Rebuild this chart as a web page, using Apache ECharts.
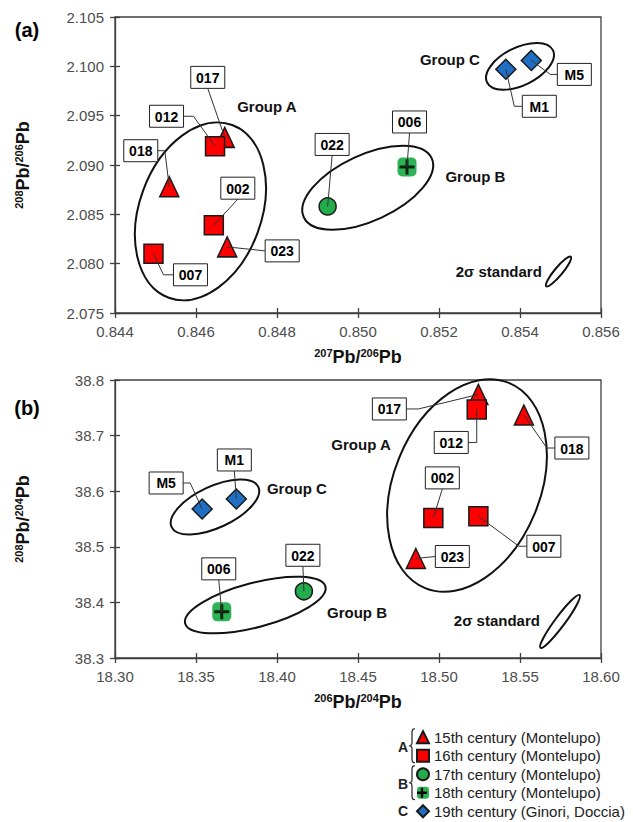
<!DOCTYPE html>
<html>
<head>
<meta charset="utf-8">
<script src="https://cdn.jsdelivr.net/npm/echarts@6/dist/echarts.min.js"></script>
<style>
html, body { margin: 0; padding: 0; background: #fff; }
#main { width: 633px; height: 822px; }
</style>
</head>
<body>
<div id="main"></div>
<script>
var FONT = '"Liberation Sans", Arial, sans-serif';

var seriesNames = ['15th century (Montelupo)', '16th century (Montelupo)',
    '17th century (Montelupo)', '18th century (Montelupo)', '19th century (Ginori, Doccia)'];

// (a)  207Pb/206Pb, 208Pb/206Pb, sample
var a15 = [[0.84534, 2.0878, '018'], [0.84671, 2.0928, '017'], [0.84677, 2.0817, '023']];
var a16 = [[0.84647, 2.0919, '012'], [0.84644, 2.0839, '002'], [0.84495, 2.0810, '007']];
var a17 = [[0.84925, 2.0858, '022']];
var a18 = [[0.85121, 2.0898, '006']];
var a19 = [[0.85365, 2.0997, 'M1'], [0.85428, 2.1006, 'M5']];

// (b)  206Pb/204Pb, 208Pb/204Pb, sample
var b15 = [[18.5243, 38.774, '017'], [18.5524, 38.737, '018'], [18.4857, 38.479, '023']];
var b16 = [[18.5233, 38.747, '012'], [18.4965, 38.552, '002'], [18.5243, 38.555, '007']];
var b17 = [[18.4166, 38.420, '022']];
var b18 = [[18.3659, 38.383, '006']];
var b19 = [[18.3749, 38.586, 'M1'], [18.3538, 38.568, 'M5']];

// axis ranges [min, max, step]
var aX = [0.844, 0.856, 0.002];
var aY = [2.075, 2.105, 0.005];
var bX = [18.30, 18.60, 0.05];
var bY = [38.3, 38.8, 0.1];

// label box offsets from the point (px) and leader routing
var aLabels = {
    '018': {dx: -28.5, dy: -36, from: 'right', elbow: 7},
    '017': {dx: -17, dy: -60, from: 'bottom'},
    '023': {dx: 55, dy: 4, from: 'left'},
    '012': {dx: -48.5, dy: -30, from: 'right', elbow: 10},
    '002': {dx: 24, dy: -37, from: 'bottom'},
    '007': {dx: 37, dy: 21, from: 'left', elbow: 10},
    '022': {dx: 4.5, dy: -62, from: 'bottom'},
    '006': {dx: 2.5, dy: -45, from: 'bottom'},
    'M1': {dx: 33.5, dy: 37, from: 'left', elbow: 8},
    'M5': {dx: 43, dy: 14, from: 'left', elbow: 7}
};
var bLabels = {
    '017': {dx: -89, dy: 14.5, from: 'right', elbow: 12},
    '018': {dx: 48, dy: 33, from: 'left', elbow: 8},
    '023': {dx: 36.5, dy: -2, from: 'left'},
    '012': {dx: -25.5, dy: 33, from: 'right', elbow: 8.5},
    '002': {dx: 9, dy: -40, from: 'bottom'},
    '007': {dx: 65.5, dy: 30, from: 'left', elbow: 8},
    '022': {dx: -1, dy: -36, from: 'bottom'},
    '006': {dx: -3, dy: -43, from: 'bottom'},
    'M1': {dx: -2, dy: -39, from: 'bottom'},
    'M5': {dx: -36, dy: -26, from: 'right', elbow: 7}
};

// group ellipses: centre in data units, radii (px), rotation (rad)
var aEllipses = [[0.84611, 2.0853, 61, 92, -0.352], [0.85024, 2.0877, 70.4, 32.9, 0.433],
    [0.85400, 2.1000, 36.7, 18.9, 0.457], [0.85495, 2.0792, 19.2, 4, 0.876]];
var bEllipses = [[18.5173, 38.6103, 73.3, 110.8, -0.388], [18.3866, 38.3953, 72.5, 22.2, 0.258],
    [18.3617, 38.5716, 47.8, 20.7, 0.434], [18.5747, 38.3657, 32.8, 5, 0.932]];
var aNotes = [['Group A', 0.84775, 2.0959, 'center'], ['Group B', 0.85290, 2.0888, 'center'],
    ['Group C', 0.85227, 2.1007, 'center'], ['2σ standard', 0.85454, 2.0792, 'right']];
var bNotes = [['Group A', 18.4519, 38.6844, 'center'], ['Group B', 18.4494, 38.3815, 'center'],
    ['Group C', 18.4123, 38.6049, 'center'], ['2σ standard', 18.5623, 38.3683, 'right']];

var styles = [
    {symbol: 'triangle', size: [19, 20], color: '#ff0000', border: '#1a1a1a'},
    {symbol: 'rect', size: 19, color: '#ff0000', border: '#1a1a1a'},
    {symbol: 'circle', size: 17, color: '#22ac4c', border: '#1a1a1a'},
    {symbol: 'roundRect', size: 19, color: '#2db356', border: null},
    {symbol: 'diamond', size: 20, color: '#1f70c4', border: '#1a1a1a'}
];
var plusPath = 'path://M4,0H6V4H10V6H6V10H4V6H0V4H4Z';

var chart = echarts.init(document.getElementById('main'), null, {renderer: 'svg'});

var nameRich = {
    s: {fontSize: 11, fontWeight: 'bold', color: '#111', fontFamily: FONT, verticalAlign: 'top', lineHeight: 12},
    p: {fontSize: 18, fontWeight: 'bold', color: '#111', fontFamily: FONT, lineHeight: 20}
};
var axisColor = '#404040';

function mainAxis(gi, r, digits, name, gap) {
    return {
        gridIndex: gi, type: 'value', min: r[0], max: r[1], interval: r[2],
        name: name, nameLocation: 'middle', nameGap: gap,
        nameTextStyle: {rich: nameRich},
        axisLine: {show: true, onZero: false, lineStyle: {color: axisColor, width: 1.3}},
        axisTick: {show: true, inside: false, length: 5, lineStyle: {color: axisColor, width: 1.3}},
        axisLabel: {margin: 11, fontSize: 15, color: '#4d4d4d', fontFamily: FONT,
            formatter: function (v) { return v.toFixed(digits); }},
        splitLine: {show: false}
    };
}
function innerAxis(gi, r, pos) {
    return {
        gridIndex: gi, type: 'value', position: pos, min: r[0], max: r[1], interval: r[2],
        axisLine: {show: false},
        axisTick: {show: true, inside: true, length: 5, lineStyle: {color: axisColor, width: 1.3}},
        axisLabel: {show: false},
        splitLine: {show: false}
    };
}

function panelSeries(gi, sets) {
    var out = [];
    sets.forEach(function (set, i) {
        var st = styles[i];
        out.push({
            name: seriesNames[i], type: 'scatter', xAxisIndex: gi, yAxisIndex: gi,
            data: set, symbol: st.symbol, symbolSize: st.size, silent: true,
            itemStyle: {color: st.color, borderColor: st.border || st.color, borderWidth: st.border ? 1.5 : 0, opacity: 1},
            z: 3
        });
    });
    out.push({
        name: 'cross', type: 'scatter', xAxisIndex: gi, yAxisIndex: gi,
        data: sets[3], symbol: plusPath, symbolSize: 15, silent: true,
        itemStyle: {color: '#000'}, z: 4
    });
    return out;
}

var LEG_TOP = 728, LEG_ROW = 18.5;

var option = {
    animation: false,
    textStyle: {fontFamily: FONT},
    grid: [
        {left: 115, top: 17, width: 486, height: 296, show: true, borderColor: axisColor, borderWidth: 1.3,
            backgroundColor: 'transparent', outerBoundsMode: 'none'},
        {left: 115, top: 380, width: 486, height: 278, show: true, borderColor: axisColor, borderWidth: 1.3,
            backgroundColor: 'transparent', outerBoundsMode: 'none'}
    ],
    legend: {
        data: seriesNames, orient: 'vertical', left: 416, top: LEG_TOP, padding: 0,
        itemWidth: 12, itemHeight: 12, itemGap: 0, selectedMode: false,
        textStyle: {fontSize: 15, lineHeight: LEG_ROW, color: '#222', fontFamily: FONT}
    },
    xAxis: [
        mainAxis(0, aX, 3, '{s|207}{p|Pb/}{s|206}{p|Pb}', 34),
        mainAxis(1, bX, 2, '{s|206}{p|Pb/}{s|204}{p|Pb}', 34),
        innerAxis(0, aX, 'bottom'),
        innerAxis(1, bX, 'bottom')
    ],
    yAxis: [
        mainAxis(0, aY, 3, '{s|208}{p|Pb/}{s|206}{p|Pb}', 82),
        mainAxis(1, bY, 1, '{s|208}{p|Pb/}{s|204}{p|Pb}', 82),
        innerAxis(0, aY, 'left'),
        innerAxis(1, bY, 'left')
    ],
    series: panelSeries(0, [a15, a16, a17, a18, a19]).concat(panelSeries(1, [b15, b16, b17, b18, b19]))
};
chart.setOption(option);

var BOX_W = 34, BOX_H = 22;
var graphics = [];

function toPx(gi, x, y) {
    return chart.convertToPixel({xAxisIndex: gi, yAxisIndex: gi}, [x, y]);
}

function annotate(gi, sets, labels, ellipses, notes) {
    ellipses.forEach(function (e) {
        var c = toPx(gi, e[0], e[1]);
        graphics.push({
            type: 'ellipse', x: c[0], y: c[1], rotation: e[4], z: 1, silent: true,
            shape: {cx: 0, cy: 0, rx: e[2], ry: e[3]},
            style: {fill: 'none', stroke: '#111', lineWidth: 2}
        });
    });
    notes.forEach(function (n) {
        var c = toPx(gi, n[1], n[2]);
        graphics.push({
            type: 'text', x: c[0], y: c[1], z: 12, silent: true,
            style: {text: n[0], font: 'bold 15px ' + FONT, fill: '#111', align: n[3], verticalAlign: 'middle'}
        });
    });
    sets.forEach(function (set) {
        set.forEach(function (d) {
            var cfg = labels[d[2]];
            var p = toPx(gi, d[0], d[1]);
            var cx = p[0] + cfg.dx, cy = p[1] + cfg.dy;
            var pts, sx;
            if (cfg.from === 'bottom') {
                pts = [[cx, cy + BOX_H / 2], p];
            } else if (cfg.from === 'left') {
                sx = cx - BOX_W / 2;
                pts = [[sx, cy]];
                if (cfg.elbow) pts.push([sx - cfg.elbow, cy]);
                pts.push(p);
            } else {
                sx = cx + BOX_W / 2;
                pts = [[sx, cy]];
                if (cfg.elbow) pts.push([sx + cfg.elbow, cy]);
                pts.push(p);
            }
            graphics.push({
                type: 'polyline', z: 10, silent: true,
                shape: {points: pts},
                style: {stroke: '#333', lineWidth: 1, fill: null}
            });
            graphics.push({
                type: 'rect', z: 11, silent: true,
                shape: {x: cx - BOX_W / 2, y: cy - BOX_H / 2, width: BOX_W, height: BOX_H},
                style: {fill: '#fff', stroke: '#222', lineWidth: 1}
            });
            graphics.push({
                type: 'text', x: cx, y: cy + 0.5, z: 12, silent: true,
                style: {text: d[2], font: 'bold 14px ' + FONT, fill: '#000', align: 'center', verticalAlign: 'middle'}
            });
        });
    });
}

annotate(0, [a15, a16, a17, a18, a19], aLabels, aEllipses, aNotes);
annotate(1, [b15, b16, b17, b18, b19], bLabels, bEllipses, bNotes);

// panel tags
graphics.push({type: 'text', x: 27, y: 30, z: 12, silent: true,
    style: {text: '(a)', font: 'bold 20px ' + FONT, fill: '#000', align: 'center', verticalAlign: 'middle'}});
graphics.push({type: 'text', x: 27, y: 408, z: 12, silent: true,
    style: {text: '(b)', font: 'bold 20px ' + FONT, fill: '#000', align: 'center', verticalAlign: 'middle'}});

// legend grouping: letters and braces
function rowY(i) { return LEG_TOP + LEG_ROW * i + LEG_ROW / 2; }
[['A', (rowY(0) + rowY(1)) / 2], ['B', (rowY(2) + rowY(3)) / 2], ['C', rowY(4)]].forEach(function (g) {
    graphics.push({type: 'text', x: 403, y: g[1], z: 12, silent: true,
        style: {text: g[0], font: 'bold 14px ' + FONT, fill: '#222', align: 'center', verticalAlign: 'middle'}});
});
var bracePts = [[6, 0], [4.2, 0.4], [3.2, 1.8], [3, 4], [3, 14], [2.6, 16], [1.5, 16.8], [0, 17],
    [1.5, 17.2], [2.6, 18], [3, 20], [3, 30], [3.2, 32.2], [4.2, 33.6], [6, 34]];
[rowY(0) - 8.5, rowY(2) - 8.5].forEach(function (y0) {
    graphics.push({type: 'polyline', x: 409, y: y0, z: 12, silent: true,
        shape: {points: bracePts},
        style: {fill: null, stroke: '#222', lineWidth: 1.2}});
});
// black cross on the 18th century legend icon
var cy18 = rowY(3), cx18 = 416 + 6;
graphics.push({type: 'rect', z: 12, silent: true,
    shape: {x: cx18 - 1.2, y: cy18 - 5, width: 2.4, height: 10}, style: {fill: '#000'}});
graphics.push({type: 'rect', z: 12, silent: true,
    shape: {x: cx18 - 5, y: cy18 - 1.2, width: 10, height: 2.4}, style: {fill: '#000'}});

chart.setOption({graphic: graphics});
</script>
</body>
</html>
